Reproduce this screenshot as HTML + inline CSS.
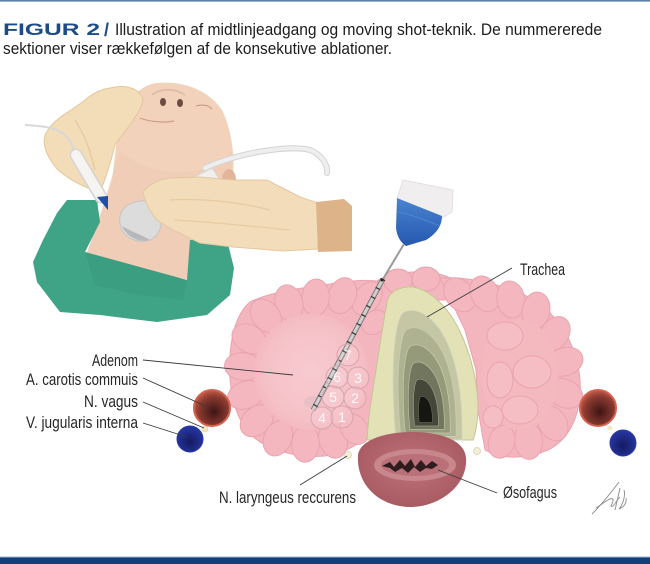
<!DOCTYPE html>
<html><head><meta charset="utf-8">
<style>html,body{margin:0;padding:0;background:#fff}svg{display:block}</style>
</head>
<body>
<svg width="650" height="564" viewBox="0 0 650 564" xmlns="http://www.w3.org/2000/svg">
<defs>
 <radialGradient id="car" cx="0.55" cy="0.6" r="0.6"><stop offset="0" stop-color="#3e1414"/><stop offset="0.7" stop-color="#8a3a30"/><stop offset="1" stop-color="#c45a48"/></radialGradient>
 <radialGradient id="jug" cx="0.5" cy="0.6" r="0.6"><stop offset="0" stop-color="#141a60"/><stop offset="1" stop-color="#2838a6"/></radialGradient>
 <radialGradient id="eso" cx="0.5" cy="0.45" r="0.65"><stop offset="0" stop-color="#bf7379"/><stop offset="1" stop-color="#a4565e"/></radialGradient>
 <linearGradient id="cap" x1="0" y1="0" x2="0" y2="1"><stop offset="0" stop-color="#4a84d2"/><stop offset="1" stop-color="#2558ae"/></linearGradient>
 <radialGradient id="nod" cx="0.5" cy="0.5" r="0.5"><stop offset="0" stop-color="#f7cbd0"/><stop offset="0.8" stop-color="#f5c1c7"/><stop offset="1" stop-color="#f4bac1"/></radialGradient>
</defs>

<!-- frame lines -->
<rect x="0" y="0" width="650" height="1.6" fill="#5a80aa"/>
<rect x="0" y="556.5" width="650" height="1.2" fill="#9ab6d4"/>
<rect x="0" y="557.5" width="650" height="6.5" fill="#113f79"/>

<!-- title -->
<text x="3" y="35" font-family="Liberation Sans, sans-serif" font-weight="bold" font-size="17" fill="#1d4b85" textLength="97" lengthAdjust="spacingAndGlyphs">FIGUR 2</text>
<text x="104" y="36" font-family="Liberation Sans, sans-serif" font-weight="bold" font-size="18" fill="#1d4b85">/</text>
<text x="115" y="35" font-family="Liberation Sans, sans-serif" font-size="16.5" fill="#1c1c1c" textLength="487" lengthAdjust="spacingAndGlyphs">Illustration af midtlinjeadgang og moving shot-teknik. De nummererede</text>
<text x="3" y="54" font-family="Liberation Sans, sans-serif" font-size="16.5" fill="#1c1c1c" textLength="389" lengthAdjust="spacingAndGlyphs">sektioner viser rækkefølgen af de konsekutive ablationer.</text>

<!-- ===== patient ===== -->
<path d="M157,83 C190,80 212,95 222,110 C232,130 236,160 232,185 L225,200 L205,245 L190,280 L85,258 L98,222 L112,180 L118,130 C125,100 140,85 157,83 Z" fill="#f2d2bb"/>
<path d="M120,150 C140,170 170,175 200,170 C215,168 225,160 232,150 L232,185 L205,245 L190,280 L85,258 L98,222 Z" fill="#eecab2" opacity="0.6"/>
<ellipse cx="229" cy="180" rx="7" ry="11" fill="#e2b49a"/>
<ellipse cx="163" cy="102" rx="3" ry="4" fill="#6e4a40"/>
<ellipse cx="180" cy="103" rx="3" ry="4" fill="#6e4a40"/>
<path d="M152,95 C160,88 175,88 185,95" stroke="#e0b8a0" stroke-width="1.5" fill="none"/>
<path d="M140,118 C150,122 165,123 174,121" stroke="#cf9e88" stroke-width="1.2" fill="none"/>
<path d="M196,106 C202,104 208,105 212,109" stroke="#c49684" stroke-width="1" fill="none"/>

<!-- drape -->
<path d="M67,200 L97,200 L100,222 L85,252 L187,280 L190,240 L227,240 L234,268 L230,295 L207,315 L157,322 L100,315 L60,312 L37,282 L33,262 L43,240 L57,213 Z" fill="#3fa385"/>
<path d="M85,252 L187,280 L183,300 L140,295 L95,285 Z" fill="#379a7c" opacity="0.5"/>

<!-- left glove -->
<path d="M110,88 C125,84 140,88 143,100 C140,115 125,130 115,145 C110,165 105,180 100,192 C85,188 70,180 58,170 C45,155 40,140 48,130 C55,118 70,112 85,100 C95,92 102,89 110,88 Z" fill="#f3dcb8" stroke="#e3c79d" stroke-width="1"/>
<path d="M75,120 C85,135 90,150 95,170" stroke="#e6cca4" stroke-width="1.5" fill="none"/>
<!-- left probe -->
<path d="M25,125 C45,126 60,128 68,138 C72,144 74,150 76,154" stroke="#d8d8d8" stroke-width="2" fill="none"/>
<line x1="76" y1="155" x2="101" y2="197" stroke="#d6d4d0" stroke-width="13" stroke-linecap="round"/>
<line x1="76" y1="155" x2="101" y2="197" stroke="#f6f4f0" stroke-width="10" stroke-linecap="round"/>
<path d="M97,197 L108,196 L108,210 Z" fill="#1f4fa8"/>

<!-- right probe cable & body -->
<path d="M205,168 C240,152 290,145 310,150 C322,155 328,165 327,173" stroke="#d4d4d4" stroke-width="6" fill="none" stroke-linecap="round"/>
<path d="M205,168 C240,152 290,145 310,150 C322,155 328,165 327,173" stroke="#eeeeee" stroke-width="4" fill="none" stroke-linecap="round"/>
<path d="M148,200 L212,168 L220,180 L160,215 Z" fill="#f0efec" stroke="#d8d6d2" stroke-width="1"/>
<path d="M128,205 C140,198 155,200 160,210 C164,222 160,236 150,240 C138,244 125,238 121,228 C118,218 120,210 128,205 Z" fill="#dcdcdc" stroke="#c4c4c4" stroke-width="1"/>
<path d="M122,226 C126,236 138,243 150,240 C144,236 132,232 122,226 Z" fill="#b8b8bc"/>

<!-- right glove -->
<path d="M143,192 C150,184 157,180 170,178 L200,177 L233,180 L267,180 L300,197 L318,203 L318,249 L283,251 L233,247 L200,243 L173,230 L157,220 C150,212 145,202 143,192 Z" fill="#f3dcb9" stroke="#e3c8a0" stroke-width="1"/>
<path d="M170,200 C200,198 240,202 270,210" stroke="#e6cba4" stroke-width="1.2" fill="none"/>
<path d="M175,220 C210,222 250,226 290,230" stroke="#e6cba4" stroke-width="1.2" fill="none"/>
<path d="M316,202 L344,199 L352,206 L352,251 L318,252 Z" fill="#ddb38a"/>

<!-- ===== thyroid ===== -->
<g fill="#f4b6be" stroke="#eaa4ae" stroke-width="1">
 <path d="M370,285 C390,270 430,268 450,278 L445,300 L380,300 Z"/>
 <path d="M250,302 C270,292 300,288 330,284 C355,280 375,278 392,285 L385,350 L375,422 C368,440 350,452 325,456 C295,458 265,450 248,432 C232,412 228,380 230,355 C232,330 238,312 250,302 Z"/>
 <path d="M440,278 C470,276 505,285 535,300 C560,318 577,345 580,380 C582,410 572,438 548,450 C525,460 500,459 485,450 L478,410 L476,370 L465,330 Z"/>
</g>
<g fill="#f4b7bf" stroke="#e9a2ad" stroke-width="1">
 <ellipse cx="398" cy="281" rx="14" ry="12"/>
 <ellipse cx="426" cy="279" rx="14" ry="12"/>
</g>
<!-- left lobe radial lobules -->
<g fill="#f4b7bf" stroke="#e9a2ad" stroke-width="1" transform="translate(311 372) scale(0.92) translate(-311 -372)">
 <ellipse cx="372" cy="292" rx="20" ry="14" transform="rotate(-53 372 292)"/>
 <ellipse cx="345" cy="289" rx="20" ry="15" transform="rotate(-68 345 289)"/>
 <ellipse cx="316" cy="291" rx="20" ry="15" transform="rotate(-86 316 291)"/>
 <ellipse cx="287" cy="297" rx="20" ry="15" transform="rotate(-106 287 297)"/>
 <ellipse cx="262" cy="311" rx="20" ry="15" transform="rotate(-128 262 311)"/>
 <ellipse cx="244" cy="336" rx="20" ry="15" transform="rotate(-150 244 336)"/>
 <ellipse cx="237" cy="366" rx="20" ry="15" transform="rotate(-175 237 366)"/>
 <ellipse cx="240" cy="397" rx="20" ry="15" transform="rotate(160 240 397)"/>
 <ellipse cx="252" cy="425" rx="20" ry="15" transform="rotate(138 252 425)"/>
 <ellipse cx="275" cy="444" rx="20" ry="15" transform="rotate(115 275 444)"/>
 <ellipse cx="305" cy="450" rx="20" ry="15" transform="rotate(94 305 450)"/>
 <ellipse cx="335" cy="446" rx="20" ry="15" transform="rotate(72 335 446)"/>
 <ellipse cx="358" cy="434" rx="18" ry="14" transform="rotate(54 358 434)"/>
 <ellipse cx="380" cy="318" rx="15" ry="12" transform="rotate(-40 380 318)"/>
</g>
<!-- right lobe radial lobules -->
<g fill="#f4b7bf" stroke="#e9a2ad" stroke-width="1" transform="translate(522 372) scale(0.93) translate(-522 -372)">
 <ellipse cx="455" cy="289" rx="20" ry="15" transform="rotate(-129 455 289)"/>
 <ellipse cx="482" cy="288" rx="20" ry="15" transform="rotate(-116 482 288)"/>
 <ellipse cx="510" cy="294" rx="20" ry="15" transform="rotate(-100 510 294)"/>
 <ellipse cx="537" cy="306" rx="20" ry="15" transform="rotate(-80 537 306)"/>
 <ellipse cx="557" cy="331" rx="20" ry="15" transform="rotate(-55 557 331)"/>
 <ellipse cx="568" cy="361" rx="20" ry="15" transform="rotate(-19 568 361)"/>
 <ellipse cx="568" cy="395" rx="20" ry="15" transform="rotate(24 568 395)"/>
 <ellipse cx="555" cy="427" rx="20" ry="15" transform="rotate(59 555 427)"/>
 <ellipse cx="529" cy="446" rx="20" ry="15" transform="rotate(86 529 446)"/>
 <ellipse cx="500" cy="447" rx="18" ry="14" transform="rotate(108 500 447)"/>
</g>
<ellipse cx="520" cy="375" rx="38" ry="55" fill="#f4b8bf"/>
<g fill="#f5bdc4" stroke="#e9a4ae" stroke-width="1">
 <ellipse cx="505" cy="336" rx="18" ry="14"/>
 <ellipse cx="532" cy="372" rx="19" ry="16"/>
 <ellipse cx="500" cy="380" rx="13" ry="18"/>
 <ellipse cx="520" cy="410" rx="18" ry="14"/>
 <ellipse cx="493" cy="417" rx="10" ry="11"/>
</g>
<!-- adenoma region (left lobe interior) -->
<ellipse cx="311" cy="372" rx="57" ry="58" fill="url(#nod)"/>
<ellipse cx="313" cy="402" rx="9" ry="6" fill="#dcbcc2" opacity="0.5"/>

<!-- trachea -->
<path d="M387,303 C388,292 400,286 413,287 C430,290 445,305 455,322 C468,345 477,375 478,405 C478,420 476,432 473,440 L367,440 C368,420 372,395 376,370 C380,345 384,318 387,303 Z" fill="#e3e2b6" stroke="#c6c594" stroke-width="1"/>
<path d="M404,312 C418,306 435,318 446,340 C458,365 463,400 462,440 L396,440 C393,410 392,375 394,350 C396,330 398,316 404,312 Z" fill="#c4c6a4" stroke="#d6d8bc" stroke-width="1"/>
<g stroke="#c9ccb0" stroke-width="1">
 <path transform="translate(425 418) scale(0.84) translate(-425 -418)" d="M404,312 C418,306 435,318 446,340 C458,365 463,400 462,440 L396,440 C393,410 392,375 394,350 C396,330 398,316 404,312 Z" fill="#aeb290"/>
 <path transform="translate(425 418) scale(0.68) translate(-425 -418)" d="M404,312 C418,306 435,318 446,340 C458,365 463,400 462,440 L396,440 C393,410 392,375 394,350 C396,330 398,316 404,312 Z" fill="#959a7a"/>
 <path transform="translate(425 418) scale(0.52) translate(-425 -418)" d="M404,312 C418,306 435,318 446,340 C458,365 463,400 462,440 L396,440 C393,410 392,375 394,350 C396,330 398,316 404,312 Z" fill="#72765e"/>
 <path transform="translate(425 418) scale(0.36) translate(-425 -418)" d="M404,312 C418,306 435,318 446,340 C458,365 463,400 462,440 L396,440 C393,410 392,375 394,350 C396,330 398,316 404,312 Z" fill="#454838"/>
 <path transform="translate(425 418) scale(0.2) translate(-425 -418)" d="M404,312 C418,306 435,318 446,340 C458,365 463,400 462,440 L396,440 C393,410 392,375 394,350 C396,330 398,316 404,312 Z" fill="#161612"/>
</g>

<!-- esophagus -->
<path d="M358,455 C360,440 385,432 412,432 C440,432 465,440 466,458 C468,485 440,507 410,507 C380,507 356,485 358,455 Z" fill="url(#eso)"/>
<ellipse cx="415" cy="465" rx="41" ry="16" fill="#c8878d"/>
<ellipse cx="415" cy="465" rx="34" ry="11" fill="#ba7079"/>
<path d="M382,466 L390,462 L394,467 L400,460 L405,466 L411,459 L415,467 L421,460 L426,466 L432,461 L438,465 L432,469 L426,468 L420,472 L414,467 L408,473 L402,468 L395,472 L390,468 Z" fill="#2e1c1e"/>

<!-- nerves -->
<circle cx="348" cy="455" r="3.5" fill="#f2efd6" stroke="#d9d2b2" stroke-width="0.8"/>
<circle cx="477" cy="451" r="3.5" fill="#f2efd6" stroke="#d9d2b2" stroke-width="0.8"/>

<!-- vessels -->
<circle cx="212" cy="408" r="18" fill="url(#car)" stroke="#d2624e" stroke-width="2"/>
<circle cx="190" cy="439" r="13" fill="url(#jug)" stroke="#2a3aa8" stroke-width="1"/>
<circle cx="205" cy="429" r="3" fill="#f2e8c6" stroke="#dccf9e" stroke-width="0.6"/>
<circle cx="598" cy="408" r="18" fill="url(#car)" stroke="#d2624e" stroke-width="2"/>
<circle cx="623" cy="443" r="13" fill="url(#jug)" stroke="#2a3aa8" stroke-width="1"/>
<circle cx="610" cy="428" r="2.5" fill="#f2e8c6"/>

<!-- needle -->
<path d="M403,180 L453,190 L452,212 L442,218 L397,199 Z" fill="#f1eeef" stroke="#e4dfe2" stroke-width="1"/>
<path d="M397,198 L442,216 C442,226 436,234 426,240 L406,246 C400,242 397,236 396,228 Z" fill="url(#cap)"/>
<path d="M398,212 C410,214 425,220 440,226" stroke="#5b92dc" stroke-width="1" fill="none" opacity="0.6"/>
<line x1="404" y1="244" x2="383" y2="279" stroke="#9a9a9a" stroke-width="2"/>
<line x1="383" y1="279" x2="313" y2="410" stroke="#777" stroke-width="5"/>
<line x1="383" y1="279" x2="313" y2="410" stroke="#cfcfcf" stroke-width="3"/>
<line x1="383" y1="279" x2="313" y2="410" stroke="#333" stroke-width="5" stroke-dasharray="1.2 9"/>
<circle cx="382" cy="280" r="1.5" fill="#222"/>

<!-- numbered ablation circles -->
<g fill="#ffffff" fill-opacity="0.1" stroke="#d9a4ad" stroke-width="1">
 <circle cx="348" cy="355" r="11"/><circle cx="337" cy="377" r="11"/><circle cx="358" cy="378" r="11"/>
 <circle cx="333" cy="397" r="11"/><circle cx="355" cy="398" r="11"/><circle cx="322" cy="418" r="11"/>
 <circle cx="342" cy="417" r="11"/>
</g>
<g font-family="Liberation Sans, sans-serif" font-size="14" fill="#ffffff" fill-opacity="0.9" text-anchor="middle">
 <text x="348" y="360">7</text><text x="337" y="382">6</text><text x="358" y="383">3</text>
 <text x="333" y="402">5</text><text x="355" y="403">2</text><text x="322" y="423">4</text>
 <text x="342" y="422">1</text>
</g>

<!-- leader lines -->
<g stroke="#3a3a3a" stroke-width="0.9" fill="none">
 <line x1="512" y1="268" x2="427" y2="317"/>
 <line x1="143" y1="360" x2="293" y2="375"/>
 <line x1="143" y1="378" x2="210" y2="408"/>
 <line x1="143" y1="402" x2="204" y2="428"/>
 <line x1="143" y1="423" x2="187" y2="437"/>
 <line x1="300" y1="485" x2="347" y2="456"/>
 <line x1="497" y1="493" x2="438" y2="470"/>
</g>

<!-- labels -->
<g font-family="Liberation Sans, sans-serif" font-size="16.5" fill="#262626">
 <text x="520" y="275" textLength="45" lengthAdjust="spacingAndGlyphs">Trachea</text>
 <text x="92" y="366" textLength="46" lengthAdjust="spacingAndGlyphs">Adenom</text>
 <text x="26" y="385" textLength="112" lengthAdjust="spacingAndGlyphs">A. carotis commuis</text>
 <text x="84" y="407" textLength="54" lengthAdjust="spacingAndGlyphs">N.  vagus</text>
 <text x="26" y="428" textLength="112" lengthAdjust="spacingAndGlyphs">V. jugularis interna</text>
 <text x="219" y="503" textLength="137" lengthAdjust="spacingAndGlyphs">N. laryngeus reccurens</text>
 <text x="503" y="498" textLength="54" lengthAdjust="spacingAndGlyphs">Øsofagus</text>
</g>

<!-- signature -->
<g stroke="#8a8a8a" stroke-width="0.9" fill="none">
 <path d="M592,514 C600,506 610,494 619,482"/>
 <path d="M596,508 C604,503 610,497 613,499 C614,503 608,508 613,506 C616,503 618,498 620,497"/>
 <path d="M620,488 L615,510"/>
 <path d="M624,490 C626,496 622,506 619,509 C624,507 627,503 626,498"/>
</g>
</svg>
</body></html>
